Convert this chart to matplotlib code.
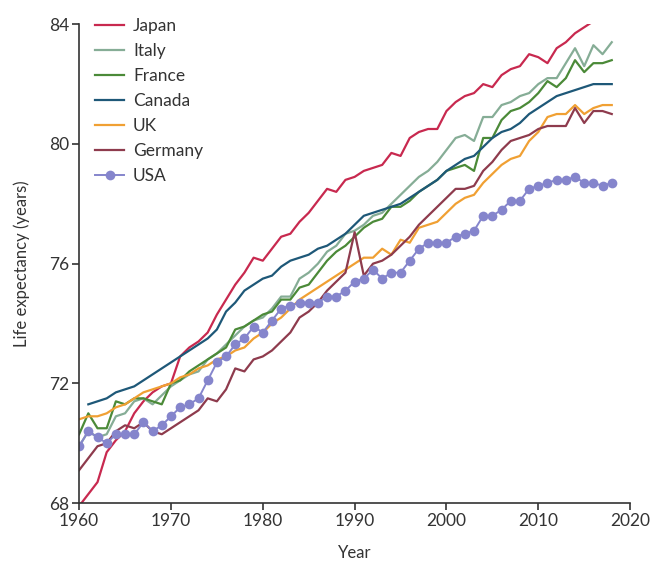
import numpy as np
import matplotlib.pyplot as plt

# ------------------------------------------------------------
# datos (esperanza de vida)
# ------------------------------------------------------------
years = np.arange(1960, 2019)

japan = [67.9, 68.3, 68.7, 69.7, 70.1, 70.4, 71.0, 71.4, 71.7, 71.9,
         72.0, 72.9, 73.2, 73.4, 73.7, 74.3, 74.8, 75.3, 75.7, 76.2,
         76.1, 76.5, 76.9, 77.0, 77.4, 77.7, 78.1, 78.5, 78.4, 78.8,
         78.9, 79.1, 79.2, 79.3, 79.7, 79.6, 80.2, 80.4, 80.5, 80.5,
         81.1, 81.4, 81.6, 81.7, 82.0, 81.9, 82.3, 82.5, 82.6, 83.0,
         82.9, 82.7, 83.2, 83.4, 83.7, 83.9, 84.1, 84.2, 84.3]
italy = [69.9, 70.4, 70.2, 70.3, 70.9, 71.0, 71.4, 71.5, 71.3, 71.6,
         71.9, 72.1, 72.3, 72.4, 72.8, 73.0, 73.3, 73.6, 73.9, 74.1,
         74.2, 74.5, 74.9, 74.9, 75.5, 75.7, 76.0, 76.4, 76.6, 77.0,
         77.1, 77.3, 77.6, 77.7, 78.0, 78.3, 78.6, 78.9, 79.1, 79.4,
         79.8, 80.2, 80.3, 80.1, 80.9, 80.9, 81.3, 81.4, 81.6, 81.7,
         82.0, 82.2, 82.2, 82.7, 83.2, 82.6, 83.3, 83.0, 83.4]
france = [70.3, 71.0, 70.5, 70.5, 71.4, 71.3, 71.5, 71.5, 71.4, 71.3,
          72.0, 72.1, 72.4, 72.6, 72.8, 73.0, 73.2, 73.8, 73.9, 74.1,
          74.3, 74.4, 74.8, 74.8, 75.2, 75.3, 75.7, 76.1, 76.4, 76.6,
          76.9, 77.2, 77.4, 77.5, 77.9, 77.9, 78.1, 78.4, 78.6, 78.8,
          79.1, 79.2, 79.3, 79.1, 80.2, 80.2, 80.8, 81.1, 81.2, 81.4,
          81.7, 82.1, 81.9, 82.2, 82.8, 82.4, 82.7, 82.7, 82.8]
canada = [np.nan, 71.3, 71.4, 71.5, 71.7, 71.8, 71.9, 72.1, 72.3, 72.5,
          72.7, 72.9, 73.1, 73.3, 73.5, 73.8, 74.4, 74.7, 75.1, 75.3,
          75.5, 75.6, 75.9, 76.1, 76.2, 76.3, 76.5, 76.6, 76.8, 77.0,
          77.3, 77.6, 77.7, 77.8, 77.9, 78.0, 78.2, 78.4, 78.6, 78.8,
          79.1, 79.3, 79.5, 79.6, 79.9, 80.2, 80.4, 80.5, 80.7, 81.0,
          81.2, 81.4, 81.6, 81.7, 81.8, 81.9, 82.0, 82.0, 82.0]
uk = [70.8, 70.9, 70.9, 71.0, 71.2, 71.3, 71.5, 71.7, 71.8, 71.9,
      72.0, 72.2, 72.3, 72.5, 72.6, 72.8, 72.9, 73.1, 73.2, 73.5,
      73.7, 74.0, 74.2, 74.5, 74.8, 75.0, 75.2, 75.4, 75.6, 75.8,
      76.0, 76.2, 76.2, 76.5, 76.3, 76.8, 76.7, 77.2, 77.3, 77.4,
      77.7, 78.0, 78.2, 78.3, 78.7, 79.0, 79.3, 79.5, 79.6, 80.1,
      80.4, 80.9, 81.0, 81.0, 81.3, 81.0, 81.2, 81.3, 81.3]
germany = [69.1, 69.5, 69.9, 70.0, 70.4, 70.6, 70.5, 70.7, 70.4, 70.3,
           70.5, 70.7, 70.9, 71.1, 71.5, 71.4, 71.8, 72.5, 72.4, 72.8,
           72.9, 73.1, 73.4, 73.7, 74.2, 74.4, 74.7, 75.1, 75.4, 75.7,
           77.05, 75.6, 76.0, 76.1, 76.3, 76.6, 76.9, 77.3, 77.6, 77.9,
           78.2, 78.5, 78.5, 78.6, 79.1, 79.4, 79.8, 80.1, 80.2, 80.3,
           80.5, 80.6, 80.6, 80.6, 81.2, 80.7, 81.1, 81.1, 81.0]
usa = [69.9, 70.4, 70.2, 70.0, 70.3, 70.3, 70.3, 70.7, 70.4, 70.6,
       70.9, 71.2, 71.3, 71.5, 72.1, 72.7, 72.9, 73.3, 73.5, 73.9,
       73.7, 74.1, 74.5, 74.6, 74.7, 74.7, 74.7, 74.9, 74.9, 75.1,
       75.4, 75.5, 75.8, 75.5, 75.7, 75.7, 76.1, 76.5, 76.7, 76.7,
       76.7, 76.9, 77.0, 77.1, 77.6, 77.6, 77.8, 78.1, 78.1, 78.5,
       78.6, 78.7, 78.8, 78.8, 78.9, 78.7, 78.7, 78.6, 78.7]

plt.rcParams['font.family'] = ['Lato', 'DejaVu Sans']

fig = plt.figure(figsize=(6.54, 5.64), dpi=100)
ax = fig.add_axes([0.121, 0.108, 0.8425, 0.849])

series = [("Japan", japan, "#c8294f"),
          ("Italy", italy, "#86ad96"),
          ("France", france, "#4b8a38"),
          ("Canada", canada, "#1e5878"),
          ("UK", uk, "#f0a033"),
          ("Germany", germany, "#8e3b4d")]
for name, vals, col in series:
    ax.plot(years, vals, color=col, lw=1.6, label=name)
ax.plot(years, usa, color="#8585cc", lw=1.4, marker="o", ms=7,
        mec="none", label="USA")

ax.set_xlim(1960, 2020)
ax.set_ylim(68, 84)
ax.set_xticks(range(1960, 2021, 10))
ax.set_yticks(range(68, 85, 4))
ax.spines['top'].set_visible(False)
ax.spines['right'].set_visible(False)
for s in ['left', 'bottom']:
    ax.spines[s].set_color('#333333')
    ax.spines[s].set_linewidth(1.2)
ax.tick_params(direction='out', length=5, width=1.2, color='#333333',
               labelsize=12.5, labelcolor='#333333', pad=2)
ax.set_xlabel("Year", fontsize=12, color='#333333', labelpad=12)
ax.set_ylabel("Life expectancy (years)", fontsize=12, color='#333333',
              labelpad=14)

ax.legend(loc='upper left', bbox_to_anchor=(0.0, 1.045), frameon=False,
          fontsize=12.5, handlelength=1.7, handletextpad=0.5,
          labelspacing=0.52, labelcolor='#333333')

fig.savefig("out.png", dpi=100)
